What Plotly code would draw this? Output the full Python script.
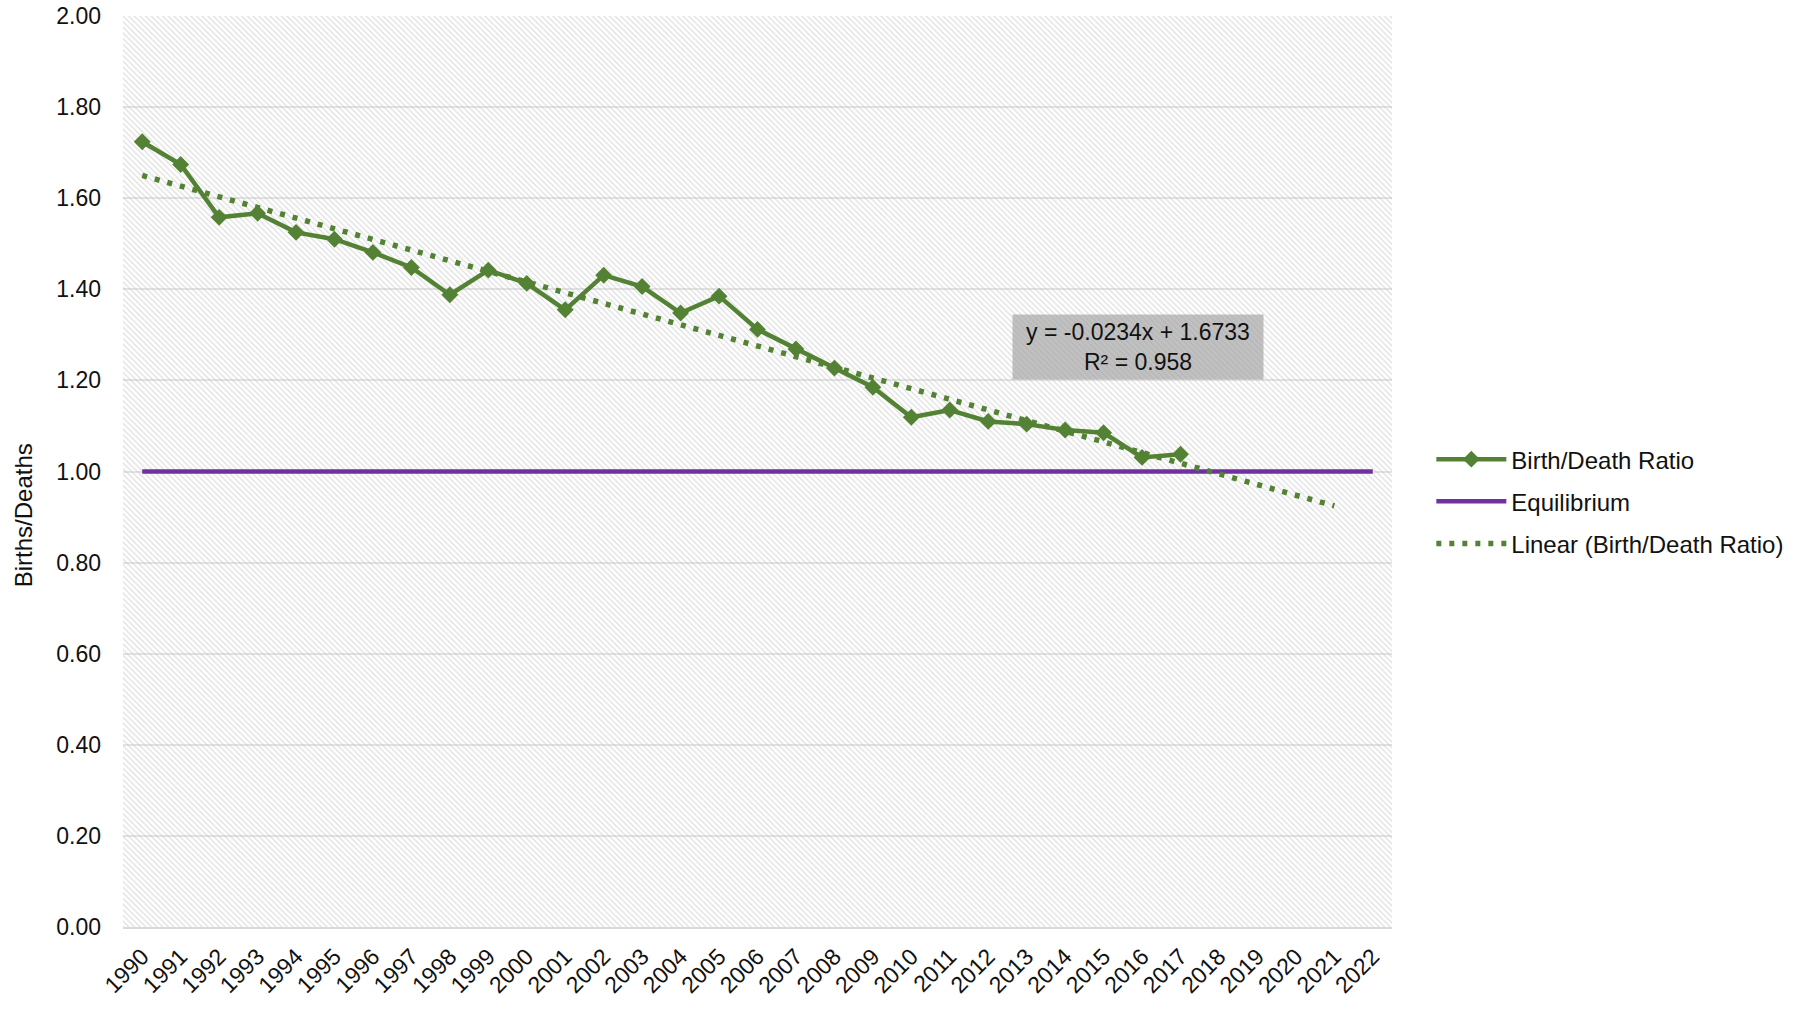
import plotly.graph_objects as go

# ---- data ----
years = list(range(1990, 2023))
ratio_years = list(range(1990, 2018))
birth_death_ratio = [1.724, 1.674, 1.558, 1.567, 1.525, 1.510, 1.481, 1.448, 1.388, 1.442,
                     1.413, 1.355, 1.431, 1.406, 1.348, 1.385, 1.312, 1.269, 1.227, 1.185,
                     1.119, 1.135, 1.110, 1.104, 1.091, 1.085, 1.031, 1.038]
equilibrium_value = 1.0
trend_slope = -0.0234
trend_intercept = 1.6733
trend_r2 = 0.958
trend_years = list(range(1990, 2022))
y_ticks = [0.0, 0.2, 0.4, 0.6, 0.8, 1.0, 1.2, 1.4, 1.6, 1.8, 2.0]

trend_values = [trend_slope * (i + 1) + trend_intercept for i in range(len(trend_years))]

GREEN = "#548235"
PURPLE = "#7030A0"
FONT = "Liberation Sans, Arial, sans-serif"
TXT = "#111111"

fig = go.Figure()

# hatched plot-area background
x0, x1 = years[0] - 0.5, years[-1] + 0.5
fig.add_trace(go.Scatter(
    x=[x0, x1, x1, x0, x0], y=[0, 0, 2, 2, 0],
    mode="none", fill="toself", fillcolor="rgba(0,0,0,0)",
    fillpattern=dict(shape="\\", fgcolor="#bdbdbd", bgcolor="rgba(0,0,0,0)",
                     size=4, solidity=0.3, fillmode="overlay"),
    showlegend=False, hoverinfo="skip"))

fig.add_trace(go.Scatter(
    x=ratio_years, y=birth_death_ratio, name="Birth/Death Ratio",
    mode="lines+markers", legendgroup="a",
    line=dict(color=GREEN, width=4.5),
    marker=dict(symbol="diamond", size=13, color=GREEN)))

fig.add_trace(go.Scatter(
    x=years, y=[equilibrium_value] * len(years), name="Equilibrium",
    mode="lines", legendgroup="b",
    line=dict(color=PURPLE, width=4.5)))

fig.add_trace(go.Scatter(
    x=trend_years, y=trend_values, name="Linear (Birth/Death Ratio)",
    mode="lines", legendgroup="c",
    line=dict(color=GREEN, width=5.5, dash="5px,8px")))

fig.add_annotation(
    x=2015.9, y=1.273, xref="x", yref="y",
    text=f"y = {trend_slope}x + {trend_intercept}<br>R² = {trend_r2}",
    showarrow=False, align="center",
    font=dict(family=FONT, size=23, color=TXT),
    bgcolor="rgba(160,160,160,0.65)", width=250, height=64, borderpad=0)

fig.add_annotation(
    x=-0.0788, y=0.452, xref="paper", yref="paper",
    xanchor="center", yanchor="middle",
    text="Births/Deaths", textangle=-90, showarrow=False,
    font=dict(family=FONT, size=24, color=TXT))

fig.update_layout(
    width=1808, height=1013,
    margin=dict(l=123, r=416, t=16, b=86, autoexpand=False),
    paper_bgcolor="white", plot_bgcolor="white",
    font=dict(family=FONT, size=23, color=TXT),
    showlegend=True,
    legend=dict(x=1.031, y=0.467, xanchor="left", yanchor="middle",
                itemwidth=70, tracegroupgap=8,
                font=dict(family=FONT, size=24, color=TXT),
                bgcolor="rgba(0,0,0,0)"),
    xaxis=dict(range=[x0, x1], tickmode="array", tickvals=years,
               ticktext=[str(y) for y in years], tickangle=-45,
               showgrid=False, zeroline=False, ticks="",
               showline=True, linecolor="#d9d9d9", linewidth=2,
               ticklabelstandoff=5, ticklabeloverflow="allow",
               tickfont=dict(family=FONT, size=23, color=TXT)),
    yaxis=dict(range=[0, 2], tickmode="array", tickvals=y_ticks,
               ticktext=[f"{v:.2f}" for v in y_ticks],
               showgrid=True, gridcolor="#e3e3e3", gridwidth=2,
               zeroline=False, showline=False, ticks="",
               ticklabelstandoff=21, ticklabeloverflow="allow",
               tickfont=dict(family=FONT, size=23, color=TXT)),
)

fig.write_html("out.html",
               config={"displayModeBar": False},
               post_script="document.body.style.margin='0';document.body.style.overflow='hidden';")
